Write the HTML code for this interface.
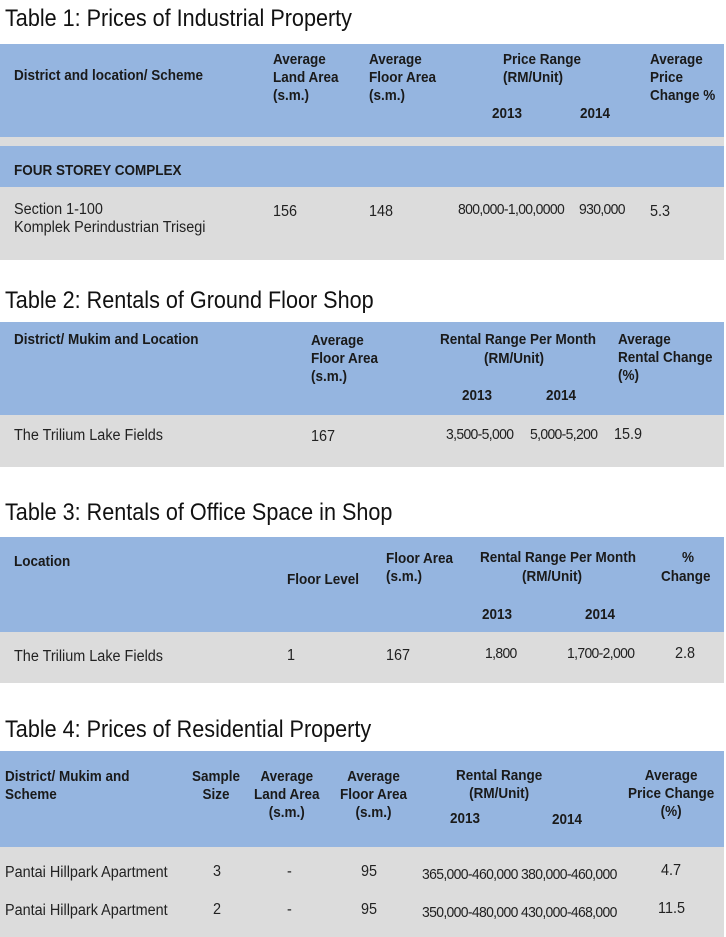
<!DOCTYPE html>
<html><head><meta charset="utf-8"><style>
body{margin:0;width:726px;height:937px;background:#fff;position:relative;overflow:hidden;font-family:"Liberation Sans",sans-serif;color:#222}
.t{position:absolute;left:5px;font-size:24px;transform-origin:0 0;transform:scaleX(0.9);white-space:nowrap;color:#111}
.b{position:absolute;left:0;width:724px;background:#95b5e0}
.g{position:absolute;left:0;width:724px;background:#dcdcdc}
.x{position:absolute;font-size:15.5px;line-height:18px;white-space:nowrap;transform-origin:0 0;transform:scaleX(0.93)}
.h{font-weight:bold;color:#1a1a1a;font-size:15px;transform:scaleX(0.9)}
.n{letter-spacing:-0.7px;font-size:15px}
.c{text-align:center}
</style></head><body>
<div class="t" style="top:5px">Table 1: Prices of Industrial Property</div>
<div class="b" style="top:44px;height:93px"></div>
<div class="g" style="top:137px;height:9px"></div>
<div class="b" style="top:146px;height:41px"></div>
<div class="g" style="top:187px;height:73px"></div>
<div class="x h" style="left:14px;top:67px">District and location/ Scheme</div>
<div class="x h" style="left:273px;top:51px">Average<br>Land Area<br>(s.m.)</div>
<div class="x h" style="left:369px;top:51px">Average<br>Floor Area<br>(s.m.)</div>
<div class="x h" style="left:503px;top:51px">Price Range<br>(RM/Unit)</div>
<div class="x h" style="left:492px;top:105px">2013</div>
<div class="x h" style="left:580px;top:105px">2014</div>
<div class="x h" style="left:650px;top:51px">Average<br>Price<br>Change %</div>
<div class="x h" style="left:14px;top:162px">FOUR STOREY COMPLEX</div>
<div class="x" style="left:14px;top:201px">Section 1-100<br>Komplek Perindustrian Trisegi</div>
<div class="x" style="left:273px;top:203px">156</div>
<div class="x" style="left:369px;top:203px">148</div>
<div class="x n" style="left:458px;top:201px">800,000-1,00,0000</div>
<div class="x n" style="left:579px;top:201px">930,000</div>
<div class="x" style="left:650px;top:203px">5.3</div>

<div class="t" style="top:287px">Table 2: Rentals of Ground Floor Shop</div>
<div class="b" style="top:322px;height:93px"></div>
<div class="g" style="top:415px;height:52px"></div>
<div class="x h" style="left:14px;top:331px">District/ Mukim and Location</div>
<div class="x h" style="left:311px;top:332px">Average<br>Floor Area<br>(s.m.)</div>
<div class="x h" style="left:440px;top:331px">Rental Range Per Month</div>
<div class="x h" style="left:484px;top:350px">(RM/Unit)</div>
<div class="x h" style="left:462px;top:387px">2013</div>
<div class="x h" style="left:546px;top:387px">2014</div>
<div class="x h" style="left:618px;top:331px">Average<br>Rental Change<br>(%)</div>
<div class="x" style="left:14px;top:427px">The Trilium Lake Fields</div>
<div class="x" style="left:311px;top:428px">167</div>
<div class="x n" style="left:446px;top:426px">3,500-5,000</div>
<div class="x n" style="left:530px;top:426px">5,000-5,200</div>
<div class="x" style="left:614px;top:426px">15.9</div>

<div class="t" style="top:499px">Table 3: Rentals of Office Space in Shop</div>
<div class="b" style="top:537px;height:95px"></div>
<div class="g" style="top:632px;height:51px"></div>
<div class="x h" style="left:14px;top:553px">Location</div>
<div class="x h" style="left:287px;top:571px">Floor Level</div>
<div class="x h" style="left:386px;top:550px">Floor Area<br>(s.m.)</div>
<div class="x h" style="left:480px;top:549px">Rental Range Per Month</div>
<div class="x h" style="left:522px;top:568px">(RM/Unit)</div>
<div class="x h" style="left:682px;top:549px">%</div>
<div class="x h" style="left:661px;top:568px">Change</div>
<div class="x h" style="left:482px;top:606px">2013</div>
<div class="x h" style="left:585px;top:606px">2014</div>
<div class="x" style="left:14px;top:648px">The Trilium Lake Fields</div>
<div class="x" style="left:287px;top:647px">1</div>
<div class="x" style="left:386px;top:647px">167</div>
<div class="x n" style="left:485px;top:645px">1,800</div>
<div class="x n" style="left:567px;top:645px">1,700-2,000</div>
<div class="x" style="left:675px;top:645px">2.8</div>

<div class="t" style="top:716px">Table 4: Prices of Residential Property</div>
<div class="b" style="top:751px;height:96px"></div>
<div class="g" style="top:847px;height:90px"></div>
<div class="x h" style="left:5px;top:768px">District/ Mukim and<br>Scheme</div>
<div class="x h c" style="left:192px;top:768px">Sample<br>Size</div>
<div class="x h c" style="left:254px;top:768px">Average<br>Land Area<br>(s.m.)</div>
<div class="x h c" style="left:340px;top:768px">Average<br>Floor Area<br>(s.m.)</div>
<div class="x h c" style="left:456px;top:767px">Rental Range<br>(RM/Unit)</div>
<div class="x h" style="left:450px;top:810px">2013</div>
<div class="x h" style="left:552px;top:811px">2014</div>
<div class="x h c" style="left:628px;top:767px">Average<br>Price Change<br>(%)</div>
<div class="x" style="left:5px;top:864px">Pantai Hillpark Apartment</div>
<div class="x" style="left:213px;top:863px">3</div>
<div class="x" style="left:287px;top:863px">-</div>
<div class="x" style="left:361px;top:863px">95</div>
<div class="x n" style="left:422px;top:866px">365,000-460,000</div>
<div class="x n" style="left:521px;top:866px">380,000-460,000</div>
<div class="x" style="left:661px;top:862px">4.7</div>
<div class="x" style="left:5px;top:902px">Pantai Hillpark Apartment</div>
<div class="x" style="left:213px;top:901px">2</div>
<div class="x" style="left:287px;top:901px">-</div>
<div class="x" style="left:361px;top:901px">95</div>
<div class="x n" style="left:422px;top:904px">350,000-480,000</div>
<div class="x n" style="left:521px;top:904px">430,000-468,000</div>
<div class="x" style="left:658px;top:900px">11.5</div>
</body></html>
